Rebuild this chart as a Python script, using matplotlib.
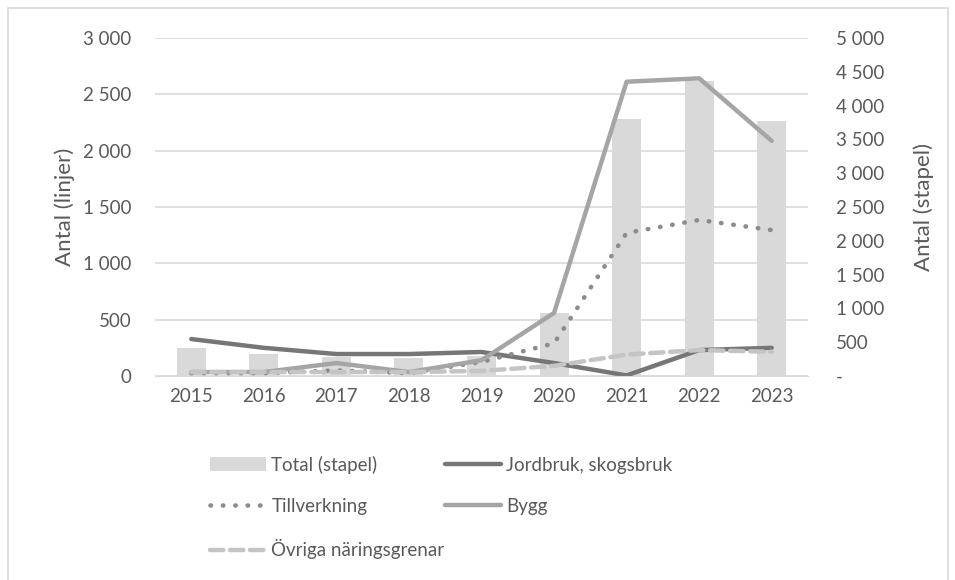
import matplotlib.pyplot as plt
from matplotlib.patches import Rectangle
from matplotlib.ticker import FuncFormatter

# data
years = ['2015', '2016', '2017', '2018', '2019', '2020', '2021', '2022', '2023']
total = [410, 325, 285, 265, 300, 930, 3800, 4370, 3770]        # right axis, bars
jordbruk = [328, 250, 195, 195, 213, 115, 5, 230, 250]
tillverkning = [25, 25, 50, 25, 125, 290, 1270, 1385, 1295]
bygg = [35, 35, 115, 35, 140, 560, 2612, 2642, 2087]
ovriga = [35, 35, 35, 35, 45, 90, 190, 230, 215]

plt.rcParams['font.family'] = ['Lato', 'DejaVu Sans']
txt = '#595959'

fig = plt.figure(figsize=(9.55, 5.8), dpi=100)
ax = fig.add_axes([155 / 955, 1 - 376 / 580, (808 - 155) / 955, (376 - 38) / 580])
ax2 = ax.twinx()

x = range(len(years))
ax.set_zorder(ax2.get_zorder() + 1)
ax.patch.set_visible(False)

bars = ax2.bar(x, total, width=0.4, color='#d9d9d9', label='Total (stapel)')
l1, = ax.plot(x, jordbruk, color='#767676', lw=3.2, solid_capstyle='round', label='Jordbruk, skogsbruk')
l2, = ax.plot(x, tillverkning, color='#8c8c8c', lw=3.3, linestyle=(0, (0.1, 2.6)),
              dash_capstyle='round', label='Tillverkning')
l3, = ax.plot(x, bygg, color='#a5a5a5', lw=3.2, solid_capstyle='round', label='Bygg')
l4, = ax.plot(x, ovriga, color='#c4c4c4', lw=3.2, linestyle=(0, (3, 1.5)),
              dash_capstyle='round', label='Övriga näringsgrenar')

ax.set_xlim(-0.5, 8.5)
ax.set_ylim(0, 3000)
ax2.set_ylim(0, 5000)
ax.set_yticks(range(0, 3001, 500))
ax2.set_yticks(range(0, 5001, 500))
ax.set_xticks(list(x))
ax.set_xticklabels(years)

sp = lambda v, p: f'{int(v):,}'.replace(',', ' ')
ax.yaxis.set_major_formatter(FuncFormatter(sp))
ax2.yaxis.set_major_formatter(FuncFormatter(lambda v, p: '-' if v == 0 else sp(v, p)))

ax.grid(axis='y', color='#d9d9d9', lw=1.2)
ax.set_axisbelow(True)
for a in (ax, ax2):
    for s in a.spines.values():
        s.set_visible(False)
    a.tick_params(length=0, labelsize=13.5, colors=txt)
ax.spines['bottom'].set_visible(True)
ax.spines['bottom'].set_color('#d9d9d9')
ax.tick_params(axis='y', pad=17)
ax.tick_params(axis='x', pad=9)
ax2.tick_params(axis='y', pad=20)
for lab in ax2.get_yticklabels():
    lab.set_horizontalalignment('left')

ax.set_ylabel('Antal (linjer)', fontsize=16, color=txt, labelpad=6)
ax2.set_ylabel('Antal (stapel)', fontsize=16, color=txt, labelpad=21)

fig.legend([bars, l2, l4, l1, l3],
           ['Total (stapel)', 'Tillverkning', 'Övriga näringsgrenar', 'Jordbruk, skogsbruk', 'Bygg'],
           ncol=2, loc='upper left', bbox_to_anchor=(202 / 955, 1 - 448 / 580),
           frameon=False, fontsize=13.5, labelcolor=txt, handlelength=3.0,
           handletextpad=0.3, columnspacing=0.0, labelspacing=1.3, borderaxespad=0)

fig.patches.append(Rectangle((8 / 955, -0.02), 940 / 955, 1 - 8 / 580 + 0.02,
                             transform=fig.transFigure, fill=False, ec='#d9d9d9', lw=1.2))

fig.savefig('out.png', dpi=100)
